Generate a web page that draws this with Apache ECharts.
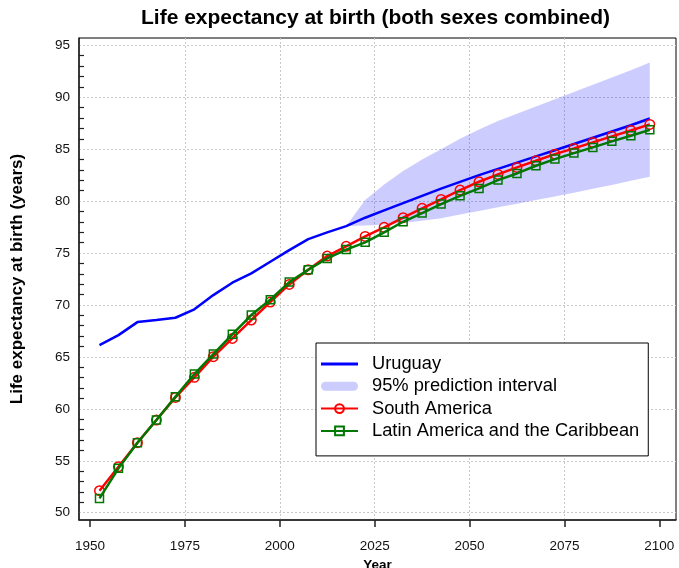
<!DOCTYPE html>
<html>
<head>
<meta charset="utf-8">
<script src="https://cdn.jsdelivr.net/npm/echarts@6/dist/echarts.min.js"></script>
<style>
html,body{margin:0;padding:0;background:#fff;}
#chart{width:679px;height:568px;}
</style>
</head>
<body>
<div id="chart"></div>
<script>
const years = [1952.5, 1957.5, 1962.5, 1967.5, 1972.5, 1977.5, 1982.5, 1987.5, 1992.5, 1997.5,
  2002.5, 2007.5, 2012.5, 2017.5, 2022.5, 2027.5, 2032.5, 2037.5, 2042.5, 2047.5,
  2052.5, 2057.5, 2062.5, 2067.5, 2072.5, 2077.5, 2082.5, 2087.5, 2092.5, 2097.5];
const uruguay = [66.14, 67.1, 68.35, 68.55, 68.77, 69.58, 70.95, 72.14, 73.04, 74.16,
  75.28, 76.34, 76.99, 77.59, 78.4, 79.1, 79.8, 80.5, 81.2, 81.85,
  82.5, 83.1, 83.7, 84.3, 84.9, 85.5, 86.1, 86.7, 87.3, 87.95];
const southAmerica = [52.12, 54.43, 56.74, 58.92, 61.1, 63.03, 65.02, 66.78, 68.55, 70.28,
  71.98, 73.39, 74.71, 75.65, 76.6, 77.47, 78.4, 79.3, 80.16, 81.06,
  81.86, 82.57, 83.24, 83.88, 84.52, 85.07, 85.65, 86.23, 86.8, 87.38];
const latinAmerica = [51.38, 54.27, 56.74, 58.92, 61.17, 63.35, 65.27, 67.17, 69.03, 70.5,
  72.2, 73.39, 74.48, 75.33, 76.03, 76.99, 78.01, 78.85, 79.71, 80.51,
  81.22, 82.02, 82.66, 83.4, 84.04, 84.62, 85.17, 85.75, 86.29, 86.86];
const bandYears = [2017.5, 2022.5, 2027.5, 2032.5, 2037.5, 2042.5, 2047.5, 2052.5, 2057.5,
  2062.5, 2067.5, 2072.5, 2077.5, 2082.5, 2087.5, 2092.5, 2097.5];
const bandLower = [77.6, 77.65, 77.75, 77.9, 78.1, 78.35, 78.7, 79.05, 79.4,
  79.75, 80.1, 80.45, 80.8, 81.2, 81.55, 81.95, 82.35];
const bandUpper = [77.6, 80.1, 81.6, 82.9, 84.0, 85.0, 86.0, 86.9, 87.7,
  88.4, 89.1, 89.8, 90.5, 91.2, 91.9, 92.6, 93.35];
const xTicks = [1950, 1975, 2000, 2025, 2050, 2075, 2100];
const yTicks = [50, 55, 60, 65, 70, 75, 80, 85, 90, 95];

const FONT = '"Liberation Sans", Arial, Helvetica, sans-serif';
const BAND = 'rgba(0,0,255,0.2)';
const pairs = (xs, ys) => xs.map((x, i) => [x, ys[i]]);

const chart = echarts.init(document.getElementById('chart'), null, {renderer: 'canvas'});
chart.setOption({
  animation: false,
  backgroundColor: '#ffffff',
  title: {
    text: 'Life expectancy at birth (both sexes combined)',
    left: 141,
    top: 8,
    padding: 0,
    textStyle: {fontFamily: FONT, fontSize: 21, fontWeight: 'bold', color: '#000'}
  },
  grid: {left: 79, right: 3, top: 38, bottom: 48, containLabel: false, outerBoundsMode: 'none',
    show: true, borderColor: '#000', borderWidth: 1, backgroundColor: 'transparent'},
  legend: {
    orient: 'vertical',
    left: 316,
    top: 343,
    padding: [12, 9, 16, 4],
    itemWidth: 37,
    itemHeight: 11,
    itemGap: 4.3,
    selectedMode: false,
    symbolKeepAspect: true,
    borderColor: '#000',
    borderWidth: 1,
    backgroundColor: '#fff',
    textStyle: {fontFamily: FONT, fontSize: 18.3, color: '#000', padding: [0, 0, 0, 9]},
    data: [
      {name: 'Uruguay', icon: 'path://M0,0 L37,0 L37,2.8 L0,2.8 Z', itemStyle: {color: '#0000ff'}},
      {name: '95% prediction interval', icon: 'path://M4.5,0 L32.5,0 A4.5,4.5 0 0 1 32.5,9 L4.5,9 A4.5,4.5 0 0 1 4.5,0 Z', itemStyle: {color: BAND}},
      {name: 'South America'},
      {name: 'Latin America and the Caribbean'}
    ]
  },
  xAxis: {
    type: 'value',
    min: 1947.1,
    max: 2104.4,
    minInterval: 25,
    maxInterval: 25,
    name: 'Year',
    nameLocation: 'middle',
    nameGap: 36,
    nameTextStyle: {fontFamily: FONT, fontSize: 13.5, fontWeight: 'bold', color: '#000'},
    axisLine: {show: true, onZero: false, lineStyle: {color: '#222', width: 1.5}},
    axisTick: {show: true, inside: false, length: 7, customValues: xTicks, lineStyle: {color: '#222', width: 1.5}},
    axisLabel: {customValues: xTicks, formatter: (v) => String(v), fontFamily: FONT, fontSize: 13.5, color: '#111', margin: 19},
    splitLine: {show: true, showMinLine: false, showMaxLine: false, lineStyle: {color: '#c8c8c8', width: 1, type: [2, 2]}}
  },
  yAxis: {
    type: 'value',
    min: 49.3,
    max: 95.7,
    minInterval: 5,
    maxInterval: 5,
    name: 'Life expectancy at birth (years)',
    nameLocation: 'middle',
    nameGap: 53,
    nameTextStyle: {fontFamily: FONT, fontSize: 17, fontWeight: 'bold', color: '#000'},
    axisLine: {show: true, onZero: false, lineStyle: {color: '#222', width: 1.5}},
    axisTick: {show: false, inside: true},
    minorTick: {show: true, splitNumber: 5, length: 5, lineStyle: {color: '#222', width: 1.2}},
    axisLabel: {customValues: yTicks, formatter: (v) => String(v), fontFamily: FONT, fontSize: 13.5, color: '#111', margin: 9},
    splitLine: {show: true, showMinLine: false, showMaxLine: false, lineStyle: {color: '#c8c8c8', width: 1, type: [2, 2]}}
  },
  series: [
    {
      name: '95% prediction interval',
      type: 'custom',
      data: bandYears.map((x, i) => [x, bandLower[i], bandUpper[i]]),
      encode: {x: 0, y: [1, 2]},
      itemStyle: {color: BAND},
      z: 1,
      silent: true,
      renderItem: function (params, api) {
        if (params.dataIndex !== 0) return null;
        const pts = [];
        for (let i = 0; i < bandYears.length; i++) pts.push(api.coord([bandYears[i], bandUpper[i]]));
        for (let i = bandYears.length - 1; i >= 0; i--) pts.push(api.coord([bandYears[i], bandLower[i]]));
        return {type: 'polygon', shape: {points: pts}, style: {fill: BAND, stroke: null}, silent: true};
      }
    },
    {
      name: 'Uruguay',
      type: 'line',
      data: pairs(years, uruguay),
      symbol: 'none',
      itemStyle: {color: '#0000ff'},
      lineStyle: {color: '#0000ff', width: 2.5},
      z: 3
    },
    {
      name: 'South America',
      type: 'line',
      data: pairs(years, southAmerica),
      symbol: 'circle',
      symbolSize: 9.5,
      itemStyle: {color: 'rgba(255,0,0,0)', borderColor: '#ff0000', borderWidth: 1.5},
      lineStyle: {color: '#ff0000', width: 2.5},
      z: 4
    },
    {
      name: 'Latin America and the Caribbean',
      type: 'line',
      data: pairs(years, latinAmerica),
      symbol: 'rect',
      symbolSize: 8,
      itemStyle: {color: 'rgba(0,128,0,0)', borderColor: '#007700', borderWidth: 1.5},
      lineStyle: {color: '#007700', width: 2.5},
      z: 5
    }
  ]
});
</script>
</body>
</html>
